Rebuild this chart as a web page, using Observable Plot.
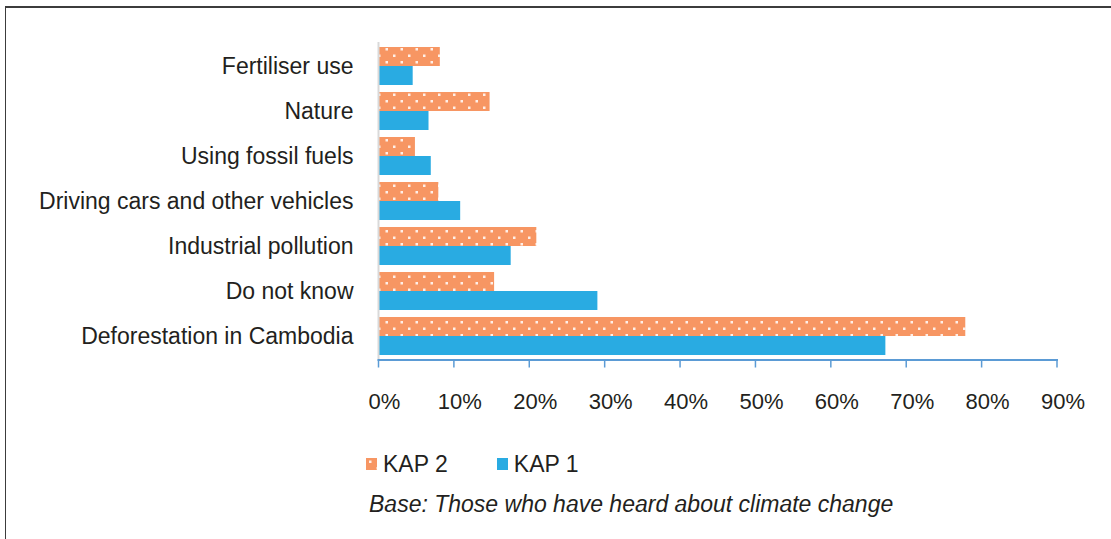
<!DOCTYPE html>
<html><head><meta charset="utf-8">
<script src="https://cdn.jsdelivr.net/npm/d3@7"></script>
<script src="https://cdn.jsdelivr.net/npm/@observablehq/plot@0.6"></script>
<style>
body{margin:0;background:#fff;font-family:"Liberation Sans",Arial,sans-serif;width:1111px;height:539px;overflow:hidden;position:relative}
#frame{position:absolute;left:5px;top:6px;width:1110px;height:540px;border-left:1.5px solid #3c3c3c;border-top:2px solid #3c3c3c;box-sizing:border-box}
#chart{position:absolute;left:0;top:0}
#legend{position:absolute;left:366px;top:451px;font-size:23px;color:#231f20;display:flex;line-height:26px;white-space:nowrap}
#legend .item{display:flex;align-items:center;margin-right:49px}
#legend svg{margin-right:6px}
#caption{position:absolute;left:369px;top:491px;font-size:23px;line-height:26px;font-style:italic;color:#231f20;white-space:nowrap}
</style></head>
<body>
<svg width="0" height="0" style="position:absolute">
  <defs>
    <pattern id="dots" patternUnits="userSpaceOnUse" width="15" height="13">
      <rect width="15" height="13" fill="#F79663"/>
      <rect x="3" y="2.5" width="2.5" height="2.5" fill="#fff" opacity="0.85"/>
      <rect x="10.5" y="9" width="2.5" height="2.5" fill="#fff" opacity="0.85"/>
    </pattern>
  </defs>
</svg>
<div id="frame"></div>
<div id="chart"></div>
<div id="legend"></div>
<div id="caption">Base: Those who have heard about climate change</div>
<script>
const categories = ["Fertiliser use", "Nature", "Using fossil fuels", "Driving cars and other vehicles", "Industrial pollution", "Do not know", "Deforestation in Cambodia"];
const series = ["KAP 2", "KAP 1"];
const kap2 = [8.2, 14.8, 4.9, 8.0, 21.0, 15.4, 77.9];
const kap1 = [4.6, 6.7, 7.0, 10.9, 17.6, 29.1, 67.3];
const xTicks = [0, 10, 20, 30, 40, 50, 60, 70, 80, 90];
const seriesFill = {"KAP 2": "url(#dots)", "KAP 1": "#29ABE2"};

const rows = categories.flatMap((c, i) => [
  {category: c, series: "KAP 2", value: kap2[i]},
  {category: c, series: "KAP 1", value: kap1[i]}
]);

const chart = Plot.plot({
  width: 1111, height: 420,
  marginLeft: 378, marginRight: 54.5, marginTop: 42, marginBottom: 60.5,
  style: {fontFamily: "'Liberation Sans', Arial, sans-serif", fontSize: "23px", color: "#231f20", background: "transparent", overflow: "visible"},
  x: {domain: [0, 90], label: null},
  y: {domain: categories, paddingInner: 0.162, paddingOuter: 0.081, label: null},
  marks: [
    Plot.barX(rows.filter(d => d.series === "KAP 2"), {x: "value", y: "category", fill: seriesFill["KAP 2"], insetBottom: 19}),
    Plot.barX(rows.filter(d => d.series === "KAP 1"), {x: "value", y: "category", fill: seriesFill["KAP 1"], insetTop: 19}),
    Plot.ruleX([0], {stroke: "#d9d9d9", strokeWidth: 2}),
    Plot.frame({anchor: "bottom", stroke: "#5b9bd5", strokeWidth: 2}),
    Plot.axisX({ticks: xTicks, tickSize: 8, stroke: "#5b9bd5", strokeWidth: 1.5, tickFormat: () => "", label: null}),
    Plot.axisX({ticks: xTicks, tickSize: 0, tickPadding: 33.5, fill: "#231f20", tickFormat: d => d + "%", fontSize: 22, dx: 6, label: null}),
    Plot.axisY({tickSize: 0, tickPadding: 25, fontSize: 23, fill: "#231f20", label: null})
  ]
});
document.getElementById("chart").appendChild(chart);

const legend = document.getElementById("legend");
for (const s of series) {
  const item = document.createElement("div");
  item.className = "item";
  item.innerHTML = `<svg width="11" height="12"><rect width="11" height="12" fill="${seriesFill[s]}"/></svg><span>${s}</span>`;
  legend.appendChild(item);
}
</script>
</body></html>
